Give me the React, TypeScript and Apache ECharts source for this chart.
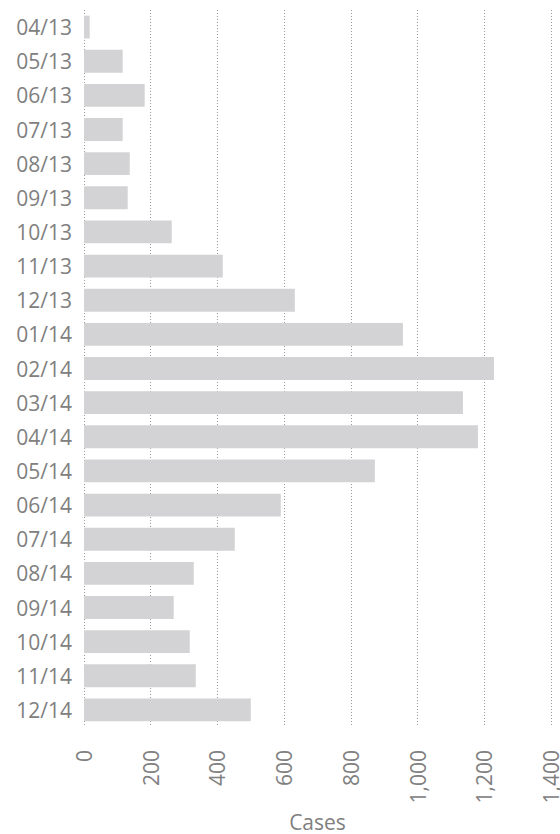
import React, { useEffect, useRef } from "react";
import * as echarts from "echarts";

const categories = [
  "04/13", "05/13", "06/13", "07/13", "08/13", "09/13", "10/13", "11/13", "12/13",
  "01/14", "02/14", "03/14", "04/14", "05/14", "06/14", "07/14", "08/14", "09/14",
  "10/14", "11/14", "12/14",
];
const cases = [
  17, 116, 182, 116, 137, 131, 263, 416, 632,
  956, 1229, 1136, 1181, 872, 590, 452, 329, 269,
  317, 335, 500,
];
const xMin = 0;
const xMax = 1400;
const xInterval = 200;
const axisTitle = "Cases";

export default function App() {
  const ref = useRef<HTMLDivElement>(null);
  useEffect(() => {
    if (!ref.current) return;
    const chart = echarts.init(ref.current, undefined, { renderer: "svg" });
    const font = "'Open Sans', 'Noto Sans', sans-serif";
    const grey = "#808080";
    chart.setOption({
      animation: false,
      grid: {
        left: 84,
        right: 9,
        top: 10,
        bottom: 107,
        containLabel: false,
        outerBoundsMode: "none",
      },
      xAxis: {
        type: "value",
        min: xMin,
        max: xMax,
        interval: xInterval,
        name: axisTitle,
        nameLocation: "middle",
        nameGap: 84,
        nameTextStyle: { color: grey, fontSize: 21, fontFamily: font, lineHeight: 21 },
        axisLine: { show: false },
        axisTick: { show: false },
        axisLabel: {
          rotate: 90,
          margin: 23,
          color: grey,
          fontSize: 21,
          lineHeight: 17,
          fontFamily: font,
          formatter: (v: number) => v.toLocaleString("en-US"),
        },
        splitLine: {
          show: true,
          lineStyle: { color: "#9a9a9a", width: 1, type: [1, 2] },
        },
      },
      yAxis: {
        type: "category",
        data: categories,
        inverse: true,
        axisLine: { show: false },
        axisTick: { show: false },
        axisLabel: { color: grey, fontSize: 21, fontFamily: font, margin: 12 },
        splitLine: { show: false },
      },
      series: [
        {
          type: "bar",
          data: cases,
          barWidth: "67%",
          itemStyle: { color: "#d3d3d5" },
        },
      ],
    });
    return () => chart.dispose();
  }, []);
  return (
    <div
      ref={ref}
      style={{ position: "fixed", left: 0, top: 0, width: 560, height: 834, background: "#fff" }}
    />
  );
}
